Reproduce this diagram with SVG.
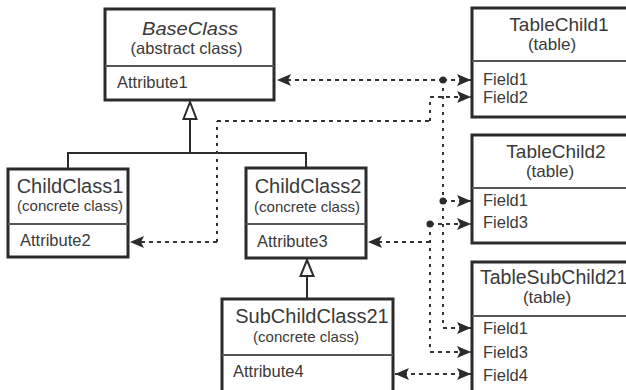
<svg xmlns="http://www.w3.org/2000/svg" width="626" height="390" viewBox="0 0 626 390">
<style>
.box{fill:#fff;stroke:#2b2b2b;stroke-width:3}
.div{stroke:#555;stroke-width:2}
.t{font-family:"Liberation Sans",Arial,sans-serif;fill:#3a3a3a}
.title{font-size:20px;text-anchor:middle}
.ttl{font-size:19px;text-anchor:middle}
.sub{font-size:15px;text-anchor:middle}
.tsub{font-size:17px;text-anchor:middle}
.attr{font-size:16.5px}
.inh{stroke:#2b2b2b;stroke-width:2;fill:none}
.tri{fill:#fff;stroke:#2b2b2b;stroke-width:2}
.dh{stroke:#333;stroke-width:2;stroke-dasharray:4 4;fill:none}
.dv{stroke:#333;stroke-width:2;stroke-dasharray:3 5;fill:none}
.dot{fill:#2b2b2b}
</style>
<defs>
<marker id="ah" markerUnits="userSpaceOnUse" markerWidth="15" markerHeight="13" refX="14" refY="6" orient="auto-start-reverse">
<path d="M0,0 L14,6 L0,12 L3,6 z" fill="#2b2b2b"/>
</marker>
</defs>

<g id="BaseClass">
<rect class="box" x="105" y="9" width="169" height="91"/>
<line class="div" x1="105" y1="66" x2="274" y2="66"/>
<text class="t" x="190" y="35" font-size="17.5" font-style="italic" text-anchor="middle" textLength="96" lengthAdjust="spacingAndGlyphs">BaseClass</text>
<text class="t" x="186.5" y="54" font-size="16.5" text-anchor="middle">(abstract class)</text>
<text class="t attr" x="117" y="88">Attribute1</text>
</g>

<g id="ChildClass1">
<rect class="box" x="8" y="169" width="120" height="88"/>
<line class="div" x1="8" y1="224" x2="128" y2="224"/>
<text class="t title" x="70" y="193">ChildClass1</text>
<text class="t sub" x="70" y="211">(concrete class)</text>
<text class="t attr" x="20" y="246">Attribute2</text>
</g>

<g id="ChildClass2">
<rect class="box" x="246" y="168" width="120" height="90"/>
<line class="div" x1="246" y1="224" x2="366" y2="224"/>
<text class="t title" x="308" y="193">ChildClass2</text>
<text class="t sub" x="307" y="212">(concrete class)</text>
<text class="t attr" x="257" y="247">Attribute3</text>
</g>

<g id="SubChildClass21">
<rect class="box" x="222" y="299" width="171" height="100"/>
<line class="div" x1="222" y1="355" x2="393" y2="355"/>
<text class="t title" x="312" y="323">SubChildClass21</text>
<text class="t sub" x="306" y="342">(concrete class)</text>
<text class="t attr" x="233" y="377">Attribute4</text>
</g>

<g id="TableChild1">
<rect class="box" x="472" y="8" width="170" height="109"/>
<line class="div" x1="472" y1="61" x2="642" y2="61"/>
<text class="t ttl" x="559" y="31">TableChild1</text>
<text class="t tsub" x="552" y="50">(table)</text>
<text class="t attr" x="483" y="85">Field1</text>
<text class="t attr" x="483" y="103">Field2</text>
</g>

<g id="TableChild2">
<rect class="box" x="472" y="135" width="170" height="108"/>
<line class="div" x1="472" y1="188" x2="642" y2="188"/>
<text class="t ttl" x="556" y="158">TableChild2</text>
<text class="t tsub" x="550" y="177">(table)</text>
<text class="t attr" x="483" y="206">Field1</text>
<text class="t attr" x="483" y="228">Field3</text>
</g>

<g id="TableSubChild21">
<rect class="box" x="472" y="262" width="170" height="140"/>
<line class="div" x1="472" y1="316" x2="642" y2="316"/>
<text class="t" x="480" y="284" font-size="19.5">TableSubChild21</text>
<text class="t tsub" x="547" y="303">(table)</text>
<text class="t attr" x="483" y="334">Field1</text>
<text class="t attr" x="483" y="358">Field3</text>
<text class="t attr" x="483" y="381">Field4</text>
</g>

<g id="connectors">
<polyline class="inh" points="68,169 68,153 306,153 306,168"/>
<line class="inh" x1="190" y1="153" x2="190" y2="119"/>
<polygon class="tri" points="190,102 183.5,119 196.5,119"/>
<line class="inh" x1="307" y1="299" x2="307" y2="276"/>
<polygon class="tri" points="307,260 300.5,276 313.5,276"/>

<line class="dh" x1="443" y1="80" x2="277" y2="80" marker-end="url(#ah)"/>
<line class="dh" x1="443" y1="80" x2="471" y2="80" marker-end="url(#ah)"/>
<line class="dv" x1="443" y1="80" x2="443" y2="328"/>
<line class="dh" x1="443" y1="328" x2="471" y2="328" marker-end="url(#ah)"/>
<line class="dh" x1="443" y1="201" x2="471" y2="201" marker-end="url(#ah)"/>
<circle class="dot" cx="443" cy="80" r="3.5"/>
<circle class="dot" cx="443" cy="201" r="3.5"/>

<line class="dh" x1="430" y1="224" x2="471" y2="224" marker-end="url(#ah)"/>
<line class="dv" x1="430" y1="224" x2="430" y2="352"/>
<line class="dh" x1="430" y1="352" x2="471" y2="352" marker-end="url(#ah)"/>
<line class="dh" x1="430" y1="242" x2="368" y2="242" marker-end="url(#ah)"/>
<circle class="dot" cx="430" cy="224" r="3.5"/>

<line class="dh" x1="217" y1="242" x2="130" y2="242" marker-end="url(#ah)"/>
<line class="dv" x1="217" y1="242" x2="217" y2="121"/>
<line class="dh" x1="217" y1="121" x2="430" y2="121"/>
<line class="dv" x1="430" y1="121" x2="430" y2="97"/>
<line class="dh" x1="430" y1="97" x2="471" y2="97" marker-end="url(#ah)"/>

<line class="dh" x1="395" y1="374" x2="471" y2="374" marker-start="url(#ah)" marker-end="url(#ah)"/>
</g>
</svg>
